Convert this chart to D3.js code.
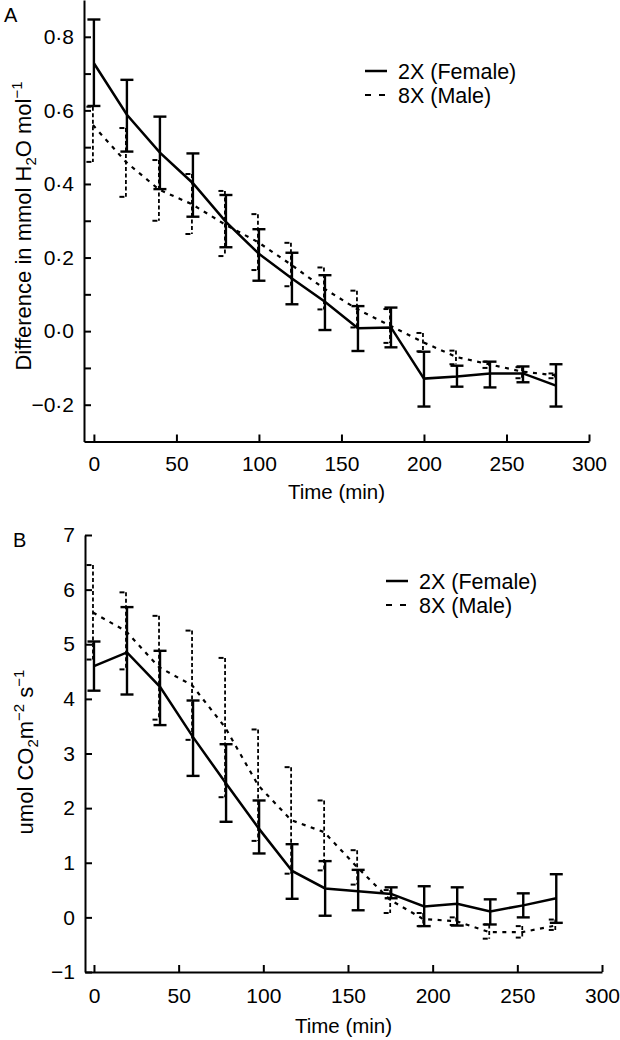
<!DOCTYPE html>
<html>
<head>
<meta charset="utf-8">
<script src="https://cdnjs.cloudflare.com/ajax/libs/d3/7.8.5/d3.min.js"></script>
<style>
  body { margin: 0; background: #fff; }
  svg { display: block; font-family: "Liberation Sans", Arial, Helvetica, sans-serif; }
  .axis path, .axis line { stroke: #000; stroke-width: 2; }
  .axis text { font-size: 21px; fill: #000; }
</style>
</head>
<body>
<div id="chart"></div>
<script>
// panel A: water vapour difference
var timeA = [0, 20, 40, 60, 80, 100, 120, 140, 160, 180, 200, 220, 240, 260, 280];
var femaleA   = [0.728, 0.588, 0.485, 0.402, 0.297, 0.210, 0.143, 0.080, 0.008, 0.010, -0.129, -0.123, -0.115, -0.115, -0.148];
var femaleAHi = [0.847, 0.683, 0.583, 0.483, 0.370, 0.277, 0.213, 0.152, 0.068, 0.064, -0.056, -0.094, -0.083, -0.096, -0.090];
var femaleALo = [0.612, 0.488, 0.386, 0.311, 0.228, 0.137, 0.073, 0.003, -0.054, -0.044, -0.205, -0.151, -0.153, -0.139, -0.205];
var maleA     = [0.560, 0.460, 0.385, 0.345, 0.290, 0.242, 0.181, 0.116, 0.060, 0.015, -0.030, -0.070, -0.090, -0.110, -0.120];
var maleAHi   = [0.610, 0.552, 0.465, 0.427, 0.381, 0.318, 0.240, 0.173, 0.110, 0.060, -0.005, -0.053, -0.083, -0.098, -0.115];
var maleALo   = [0.460, 0.365, 0.300, 0.264, 0.204, 0.166, 0.122, 0.059, 0.010, -0.032, -0.055, -0.090, -0.100, -0.128, -0.128];

// panel B: CO2 assimilation
var timeB = [0, 19.5, 39, 58.5, 78, 97.5, 117, 136.5, 156, 175.5, 195, 214.5, 234, 253.5, 273];
var femaleB   = [4.60, 4.85, 4.22, 3.30, 2.45, 1.62, 0.85, 0.53, 0.48, 0.43, 0.20, 0.25, 0.11, 0.22, 0.35];
var femaleBHi = [5.05, 5.68, 4.88, 3.97, 3.17, 2.14, 1.34, 1.03, 0.87, 0.55, 0.57, 0.55, 0.33, 0.44, 0.79];
var femaleBLo = [4.15, 4.08, 3.52, 2.59, 1.75, 1.17, 0.34, 0.03, 0.13, 0.35, -0.16, -0.15, -0.13, 0.00, -0.10];
var maleB     = [5.58, 5.24, 4.58, 4.25, 3.48, 2.42, 1.78, 1.56, 0.92, 0.32, -0.03, -0.07, -0.27, -0.27, -0.15];
var maleBHi   = [6.45, 5.95, 5.52, 5.25, 4.75, 3.44, 2.75, 2.14, 1.23, 0.50, 0.08, 0.00, -0.13, -0.16, -0.04];
var maleBLo   = [4.72, 4.54, 3.62, 3.25, 2.20, 1.40, 0.80, 0.86, 0.60, 0.08, -0.16, -0.14, -0.39, -0.37, -0.23];

var xTicks = [0, 50, 100, 150, 200, 250, 300];
var yTicksA = [-0.2, 0, 0.2, 0.4, 0.6, 0.8];
var yMinorA = [-0.1, 0.1, 0.3, 0.5, 0.7];
var yTicksB = [-1, 0, 1, 2, 3, 4, 5, 6, 7];
var legendLabels = ['2X (Female)', '8X (Male)'];

var svg = d3.select('#chart').append('svg')
    .attr('width', 620)
    .attr('height', 1040);

function fmtA(d) {
    var s = Math.abs(d).toFixed(1).replace('.', '\u00b7');
    return d < 0 ? '\u2212' + s : s;
}
function fmtB(d) {
    return d < 0 ? '\u2212' + Math.abs(d) : String(d);
}

function drawPanel(p) {
    var g = svg.append('g');
    var x = d3.scaleLinear().domain(p.xDomain).range(p.xRange);
    var y = d3.scaleLinear().domain(p.yDomain).range(p.yRange);

    g.append('g')
        .attr('class', 'axis')
        .attr('transform', 'translate(0,' + p.yRange[0] + ')')
        .call(d3.axisBottom(x).tickValues(xTicks).tickSizeInner(-7).tickSizeOuter(0).tickPadding(p.xPad));

    g.append('g')
        .attr('class', 'axis')
        .attr('transform', 'translate(' + p.xRange[0] + ',0)')
        .call(d3.axisLeft(y).tickValues(p.yTicks).tickFormat(p.fmt).tickSizeInner(-7).tickSizeOuter(0).tickPadding(10));

    if (p.yMinor) {
        g.append('g')
            .attr('class', 'axis')
            .attr('transform', 'translate(' + p.xRange[0] + ',0)')
            .call(d3.axisLeft(y).tickValues(p.yMinor).tickFormat('').tickSizeInner(-7).tickSizeOuter(0))
            .select('.domain').remove();
    }

    g.selectAll('.axis text').attr('font-family', null).attr('font-size', null);
    g.selectAll('.axis').attr('font-size', null).attr('font-family', null);

    // error bars then lines
    function series(t, mean, hi, lo, dashed, off) {
        var pts = t.map(function(d, i) {
            return { x: x(d) + off, m: y(mean[i]), hi: y(hi[i]), lo: y(lo[i]) };
        });
        var bars = g.append('g')
            .attr('stroke', '#000')
            .attr('fill', 'none');
        bars.selectAll('.bar').data(pts).enter().append('line')
            .attr('x1', function(d) { return d.x; })
            .attr('x2', function(d) { return d.x; })
            .attr('y1', function(d) { return d.hi; })
            .attr('y2', function(d) { return d.lo; })
            .attr('stroke-width', dashed ? 1.8 : 2.4)
            .attr('stroke-dasharray', dashed ? '4,2.5' : null);
        ['hi', 'lo'].forEach(function(k) {
            bars.selectAll('.cap-' + k).data(pts).enter().append('line')
                .attr('x1', function(d) { return d.x - 6.5; })
                .attr('x2', function(d) { return d.x + 6.5; })
                .attr('y1', function(d) { return d[k]; })
                .attr('y2', function(d) { return d[k]; })
                .attr('stroke-width', dashed ? 2 : 2.4)
                .attr('stroke-dasharray', dashed ? '5,8' : null);
        });
        var line = d3.line()
            .x(function(d) { return d.x; })
            .y(function(d) { return d.m; });
        g.append('path')
            .datum(pts)
            .attr('d', line)
            .attr('fill', 'none')
            .attr('stroke', '#000')
            .attr('stroke-width', dashed ? 2.2 : 2.5)
            .attr('stroke-dasharray', dashed ? '4,5.5' : null);
    }
    series(p.t, p.male, p.maleHi, p.maleLo, true, -1);
    series(p.t, p.female, p.femaleHi, p.femaleLo, false, 0);

    // titles
    g.append('text')
        .attr('x', (p.xRange[0] + p.xRange[1]) / 2)
        .attr('y', p.xTitleY)
        .attr('text-anchor', 'middle')
        .attr('font-size', 20.5)
        .text('Time (min)');

    var yt = g.append('text')
        .attr('transform', 'translate(' + p.yTitleX + ',' + p.yTitleY + ') rotate(-90)')
        .attr('text-anchor', 'middle')
        .attr('font-size', 22);
    p.yTitle.forEach(function(part) {
        var ts = yt.append('tspan').text(part[0]);
        if (part[1] === 'sub') ts.attr('font-size', 15).attr('dy', 5);
        if (part[1] === 'sup') ts.attr('font-size', 15).attr('dy', -9);
        if (part[1] === 'back') ts.attr('dy', part[2]);
    });

    g.append('text')
        .attr('x', p.letterX)
        .attr('y', p.letterY)
        .attr('font-size', 20)
        .text(p.letter);

    // legend
    var lg = g.append('g').attr('transform', 'translate(' + p.legX + ',' + p.legY + ')');
    lg.append('line').attr('x1', 0).attr('x2', 22).attr('y1', 0).attr('y2', 0)
        .attr('stroke', '#000').attr('stroke-width', 2.5);
    lg.append('line').attr('x1', 0).attr('x2', 22).attr('y1', 24).attr('y2', 24)
        .attr('stroke', '#000').attr('stroke-width', 2.2).attr('stroke-dasharray', '6,8');
    lg.selectAll('.lab').data(legendLabels).enter().append('text')
        .attr('x', 33)
        .attr('y', function(d, i) { return 7.5 + i * 24; })
        .attr('font-size', 21.5)
        .text(function(d) { return d; });
}

drawPanel({
    t: timeA,
    female: femaleA, femaleHi: femaleAHi, femaleLo: femaleALo,
    male: maleA, maleHi: maleAHi, maleLo: maleALo,
    xDomain: [-6, 300], xRange: [84, 589],
    yDomain: [-0.3, 0.9], yRange: [441.5, 0],
    yTicks: yTicksA, yMinor: yMinorA, fmt: fmtA,
    xPad: 15, xTitleY: 499,
    yTitle: [['Difference in mmol H'], ['2', 'sub'], ['O mol', 'back', -5], ['\u22121', 'sup']],
    yTitleX: 31, yTitleY: 226,
    letter: 'A', letterX: 4, letterY: 22,
    legX: 365, legY: 71
});

drawPanel({
    t: timeB,
    female: femaleB, femaleHi: femaleBHi, femaleLo: femaleBLo,
    male: maleB, maleHi: maleBHi, maleLo: maleBLo,
    xDomain: [-5.3, 300], xRange: [85, 602],
    yDomain: [-1, 7], yRange: [972, 535],
    yTicks: yTicksB, yMinor: null, fmt: fmtB,
    xPad: 16, xTitleY: 1033,
    yTitle: [['umol CO'], ['2', 'sub'], ['m', 'back', -5], ['\u22122', 'sup'], [' s', 'back', 9], ['\u22121', 'sup']],
    yTitleX: 33, yTitleY: 752,
    letter: 'B', letterX: 13, letterY: 547,
    legX: 386, legY: 581
});
</script>
</body>
</html>
